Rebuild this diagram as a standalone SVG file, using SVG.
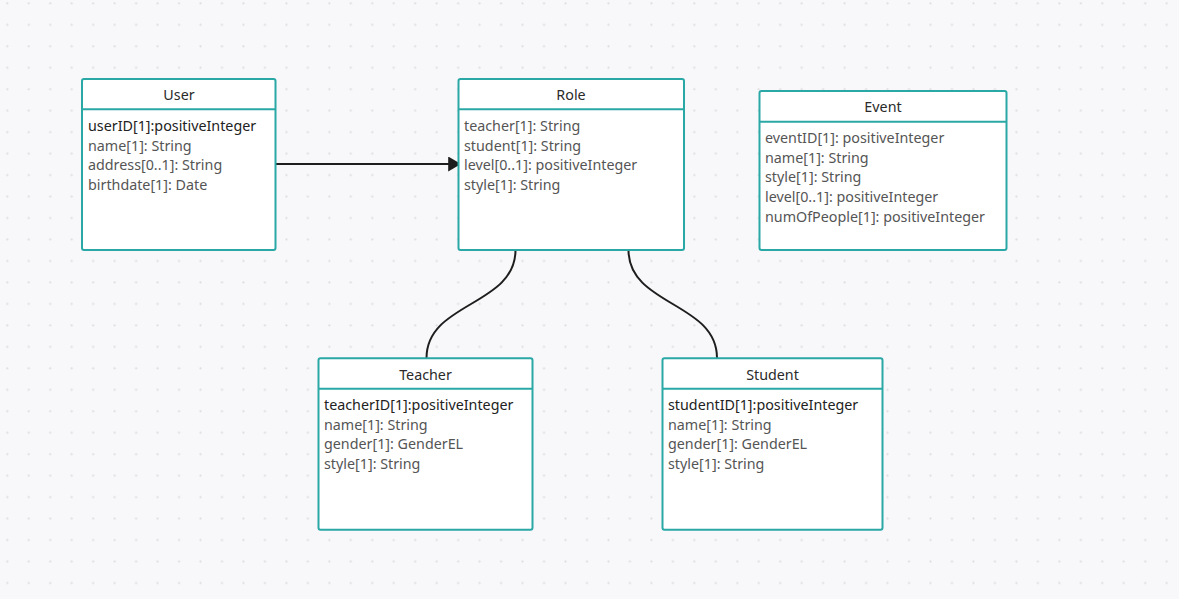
<svg xmlns="http://www.w3.org/2000/svg" width="1179" height="599" viewBox="0 0 1179 599">
<defs>
<pattern id="dots" x="0" y="0" width="21.47" height="21.47" patternUnits="userSpaceOnUse">
<circle cx="7.3" cy="3.3" r="1.1" fill="#dddde0"/>
</pattern>
<marker id="arrow" viewBox="0 0 12 14" refX="11" refY="7" markerWidth="13" markerHeight="15" markerUnits="userSpaceOnUse" orient="auto">
<path d="M0,0 L12,7 L0,14 Z" fill="#1e1e1e"/>
</marker>
<style>
.box{fill:#ffffff;stroke:#2aa8a6;stroke-width:2}
.div{stroke:#2aa8a6;stroke-width:2}
.hdr{font-family:"Noto Sans",sans-serif;font-size:14.3px;fill:#2a2a2a;text-anchor:middle}
.att{font-family:"Noto Sans",sans-serif;font-size:14.3px;fill:#555555}
.key{fill:#222222}
.conn{fill:none;stroke:#1e1e1e;stroke-width:2}
</style>
</defs>
<rect width="1179" height="599" fill="#f8f8fa"/>
<rect width="1179" height="599" fill="url(#dots)"/>
<g id="connectors">
<path class="conn" d="M276,164 L460,164" marker-end="url(#arrow)"/>
<path class="conn" d="M515.5,250 C515.5,306 426.5,302 426.5,358"/>
<path class="conn" d="M628.5,250 C628.5,306 717,302 717,358"/>
</g>
<g id="user">
<rect class="box" x="82" y="79" width="193.5" height="171" rx="2"/>
<line class="div" x1="82" y1="109.3" x2="275.5" y2="109.3"/>
<text class="hdr" x="179" y="99.5">User</text>
<text class="att key" x="88" y="130.5">userID[1]:positiveInteger</text>
<text class="att" x="88" y="150.5">name[1]: String</text>
<text class="att" x="88" y="169.5">address[0..1]: String</text>
<text class="att" x="88" y="189.5">birthdate[1]: Date</text>
</g>
<g id="role">
<rect class="box" x="458.5" y="79" width="225.5" height="171" rx="2"/>
<line class="div" x1="458.5" y1="109.3" x2="684" y2="109.3"/>
<text class="hdr" x="571" y="99.5">Role</text>
<text class="att" x="464" y="130.5">teacher[1]: String</text>
<text class="att" x="464" y="150.5">student[1]: String</text>
<text class="att" x="464" y="169.5">level[0..1]: positiveInteger</text>
<text class="att" x="464" y="189.5">style[1]: String</text>
</g>
<g id="event">
<rect class="box" x="759.5" y="91" width="247" height="159" rx="2"/>
<line class="div" x1="759.5" y1="121.7" x2="1006.5" y2="121.7"/>
<text class="hdr" x="883" y="111.5">Event</text>
<text class="att" x="765" y="142.5">eventID[1]: positiveInteger</text>
<text class="att" x="765" y="162.5">name[1]: String</text>
<text class="att" x="765" y="181.5">style[1]: String</text>
<text class="att" x="765" y="201.5">level[0..1]: positiveInteger</text>
<text class="att" x="765" y="221.5">numOfPeople[1]: positiveInteger</text>
</g>
<g id="teacher">
<rect class="box" x="318.5" y="358.3" width="214" height="171.5" rx="2"/>
<line class="div" x1="318.5" y1="388.7" x2="532.5" y2="388.7"/>
<text class="hdr" x="425.5" y="379.5">Teacher</text>
<text class="att key" x="324" y="409.5">teacherID[1]:positiveInteger</text>
<text class="att" x="324" y="429.5">name[1]: String</text>
<text class="att" x="324" y="448.5">gender[1]: GenderEL</text>
<text class="att" x="324" y="468.5">style[1]: String</text>
</g>
<g id="student">
<rect class="box" x="662.5" y="358.3" width="220" height="171.5" rx="2"/>
<line class="div" x1="662.5" y1="388.7" x2="882.5" y2="388.7"/>
<text class="hdr" x="772.5" y="379.5">Student</text>
<text class="att key" x="668" y="409.5">studentID[1]:positiveInteger</text>
<text class="att" x="668" y="429.5">name[1]: String</text>
<text class="att" x="668" y="448.5">gender[1]: GenderEL</text>
<text class="att" x="668" y="468.5">style[1]: String</text>
</g>
</svg>
